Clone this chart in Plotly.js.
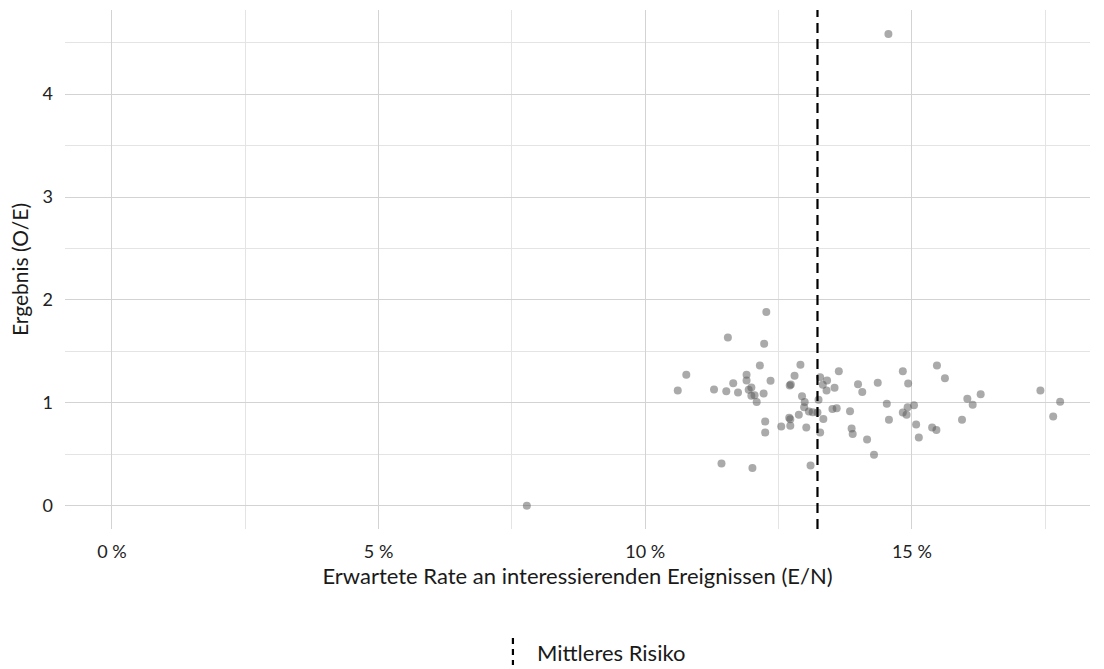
<!DOCTYPE html>
<html>
<head>
<meta charset="utf-8">
<script src="https://cdn.plot.ly/plotly-3.0.1.min.js"></script>
<style>html,body{margin:0;padding:0;background:#fff;}#chart{width:1104px;height:669px;}</style>
</head>
<body>
<div id="chart"></div>
<script>
// Expected rate of events of interest (E/N), in percent
const expectedRate = [
  12.27, 11.55, 12.23, 10.77, 10.61, 11.29, 11.52, 11.65, 11.74, 11.90,
  11.90, 11.94, 11.99, 11.99, 12.05, 12.15, 12.22, 12.09, 12.35, 12.25,
  12.25, 11.43, 12.01, 12.71, 12.73, 12.80, 12.91, 12.94, 12.99, 12.98,
  13.07, 13.14, 12.88, 12.72, 12.70, 12.72, 12.55, 13.02, 13.10, 13.25,
  13.28, 13.28, 13.33, 13.41, 13.40, 13.34, 13.55, 13.63, 13.51, 13.59,
  13.23, 13.99, 14.07, 14.36, 13.84, 13.87, 13.89, 14.16, 14.29, 14.53,
  14.57, 14.83, 14.93, 14.83, 14.90, 14.92, 15.04, 15.08, 15.13, 15.38,
  15.46, 15.47, 15.62, 15.94, 16.04, 16.14, 16.29, 17.41, 17.65, 17.78,
  7.78, 14.56
];
// Outcome (O/E)
const outcome = [
  1.883, 1.634, 1.573, 1.272, 1.120, 1.129, 1.113, 1.191, 1.100, 1.272,
  1.217, 1.126, 1.149, 1.068, 1.074, 1.362, 1.091, 1.007, 1.214, 0.819,
  0.712, 0.411, 0.366, 1.168, 1.178, 1.262, 1.369, 1.065, 1.007, 0.958,
  0.916, 0.909, 0.883, 0.841, 0.855, 0.777, 0.770, 0.760, 0.391, 1.029,
  0.712, 1.249, 1.175, 1.217, 1.120, 0.842, 1.146, 1.307, 0.939, 0.948,
  0.906, 1.181, 1.104, 1.194, 0.919, 0.751, 0.696, 0.644, 0.495, 0.990,
  0.835, 1.307, 1.188, 0.906, 0.883, 0.958, 0.977, 0.790, 0.663, 0.760,
  0.735, 1.362, 1.239, 0.835, 1.039, 0.981, 1.084, 1.120, 0.867, 1.010,
  0.000, 4.583
];
const meanRisk = 13.23;
const legendLabel = "Mittleres Risiko";
const xTickVals = [0, 5, 10, 15];
const xTickText = ["0 %", "5 %", "10 %", "15 %"];
const yTickVals = [0, 1, 2, 3, 4];

const FONT = "Lato, 'Open Sans', sans-serif";

const trace = {
  type: "scatter",
  mode: "markers",
  x: expectedRate,
  y: outcome,
  marker: {size: 8, color: "rgba(85,85,85,0.5)", line: {width: 0}},
  showlegend: false,
  hoverinfo: "x+y"
};

const layout = {
  width: 1104,
  height: 669,
  paper_bgcolor: "#fff",
  plot_bgcolor: "#fff",
  margin: {l: 65, r: 14, t: 10, b: 140},
  font: {family: FONT, size: 18, color: "#1a1a1a"},
  showlegend: false,
  xaxis: {
    range: [-0.88, 18.34],
    tickvals: xTickVals,
    ticktext: xTickText,
    showgrid: true,
    gridcolor: "#d3d3d3",
    gridwidth: 1.4,
    zeroline: false,
    showline: false,
    ticks: "",
    ticklabelstandoff: 10,
    tickfont: {family: FONT, size: 18, color: "#222"},
    minor: {dtick: 2.5, tick0: 0, showgrid: true, gridcolor: "#e4e4e4", gridwidth: 1},
    title: {text: "Erwartete Rate an interessierenden Ereignissen (E/N)", font: {family: FONT, size: 22, color: "#1a1a1a"}, standoff: 7},
    automargin: false
  },
  yaxis: {
    range: [-0.226, 4.817],
    tickvals: yTickVals,
    showgrid: true,
    gridcolor: "#d3d3d3",
    gridwidth: 1.4,
    zeroline: false,
    showline: false,
    ticks: "",
    ticklabelstandoff: 11,
    tickfont: {family: FONT, size: 18, color: "#222"},
    minor: {dtick: 0.5, tick0: 0, showgrid: true, gridcolor: "#e4e4e4", gridwidth: 1},
    title: {text: "Ergebnis (O/E)", font: {family: FONT, size: 21, color: "#1a1a1a"}, standoff: 8},
    automargin: false
  },
  shapes: [
    {type: "line", xref: "x", yref: "paper", x0: meanRisk, x1: meanRisk, y0: 0, y1: 1,
     line: {color: "#000", width: 2.2, dash: "10px,6px"}},
    {type: "line", xref: "paper", yref: "paper", x0: 0.437, x1: 0.437, y0: -0.21, y1: -0.262,
     line: {color: "#000", width: 2.2, dash: "6px,5px"}}
  ],
  annotations: [
    {xref: "paper", yref: "paper", x: 0.459, y: -0.237, xanchor: "left", yanchor: "middle",
     text: legendLabel, showarrow: false, font: {family: FONT, size: 22, color: "#1a1a1a"}}
  ]
};

Plotly.newPlot("chart", [trace], layout, {displayModeBar: false, responsive: false});
</script>
</body>
</html>
